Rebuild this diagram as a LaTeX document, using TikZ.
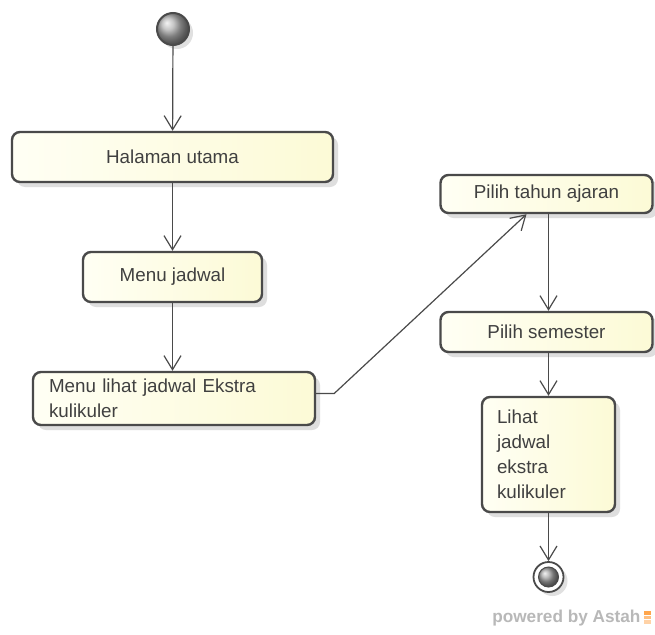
\documentclass[tikz,border=0pt]{standalone}
\usepackage{fontspec}
\setmainfont{Liberation Sans}
\usetikzlibrary{arrows.meta,shadows,calc}
\definecolor{edge}{HTML}{4A4A4A}
\definecolor{txt}{HTML}{404040}
\definecolor{fillL}{HTML}{FFFFF4}
\definecolor{fillR}{HTML}{FCFAD6}
\tikzset{
  x=1pt, y=1pt,
  act/.style={draw=edge, line width=2.4pt, rounded corners=8pt,
    left color=fillL, right color=fillR, text=txt,
    font=\fontsize{18.8}{25}\selectfont, inner sep=0pt,
    drop shadow={shadow xshift=5pt, shadow yshift=-5pt, fill=black!13, opacity=1}},
  flow/.style={draw=edge, line width=1.2pt,
    -{Straight Barb[length=14pt,width=17pt,line width=1.2pt]}},
  startnode/.style={circle, draw=edge, line width=2pt, minimum size=32pt,
    inner sep=0pt, shading=ball, ball color=black!30,
    drop shadow={shadow xshift=4pt, shadow yshift=-4pt, fill=black!12, opacity=1}},
}
\begin{document}
\begin{tikzpicture}
\useasboundingbox (0,0) rectangle (655,-634);
\fill[white] (0,0) rectangle (655,-634);

\node[startnode] (start) at (173,-29) {};

\node[act, minimum width=321pt, minimum height=50pt] (hal) at (172.5,-157) {Halaman utama};
\node[act, minimum width=179pt, minimum height=50pt] (mj) at (172.5,-277) {Menu jadwal};
\node[act, minimum width=282pt, minimum height=53pt, text width=250pt, align=left] (ml) at (174,-398.5)
  {Menu lihat jadwal Ekstra\\kulikuler};

\node[act, minimum width=212pt, minimum height=38pt] (pt) at (546.5,-194) {Pilih tahun ajaran};
\node[act, minimum width=212pt, minimum height=40pt] (ps) at (546.5,-332) {Pilih semester};
\node[act, minimum width=133pt, minimum height=115pt, text width=103pt, align=left] (lj) at (548.5,-454.5)
  {Lihat\\jadwal\\ekstra\\kulikuler};

\node[circle, draw=edge, line width=1.8pt, fill=white, minimum size=30pt, inner sep=0pt,
  drop shadow={shadow xshift=4pt, shadow yshift=-4pt, fill=black!12, opacity=1}] (end) at (548.5,-577) {};
\node[circle, draw=edge, line width=1pt, minimum size=20pt, inner sep=0pt, shading=ball, ball color=black!35] (endin) at (end.center) {};

\draw[flow] (start) -- (hal);
\draw[flow] (hal) -- (mj);
\draw[flow] (mj) -- (ml.north -| mj.south);
\draw[flow] ([yshift=5pt]ml.east) -- ++(18,0) -- ([xshift=-20pt]pt.south);
\draw[flow] (pt.south -| lj.north) -- (ps.north -| lj.north);
\draw[flow] (ps.south -| lj.north) -- (lj.north);
\draw[flow] (lj) -- (end);

\node[text=black!28, font=\bfseries\fontsize{17.2}{20}\selectfont, anchor=east] (pw) at (644,-618) {powered by Astah};
\fill[orange!70] (644,-611) rectangle (651,-614.5);
\fill[orange!50] (644,-615.5) rectangle (651,-619);
\fill[orange!35] (644,-620) rectangle (651,-623.5);
\end{tikzpicture}
\end{document}
